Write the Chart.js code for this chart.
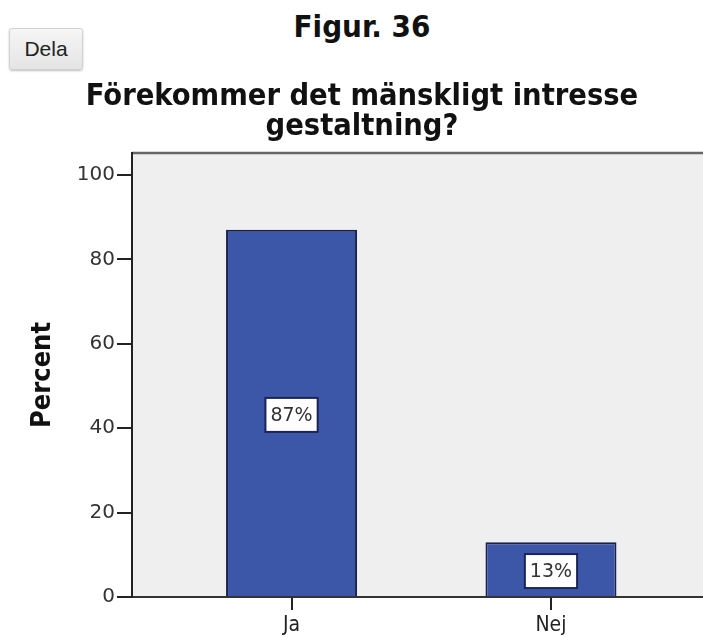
<!DOCTYPE html>
<html lang="sv">
<head>
<meta charset="UTF-8">
<title>Figur. 36</title>
<script src="https://cdn.jsdelivr.net/npm/chart.js@4.4.1/dist/chart.umd.min.js"></script>
<style>
  body {
    margin: 0;
    width: 703px;
    height: 637px;
    position: relative;
    overflow: hidden;
    background: #fff;
  }
  h2 {
    position: absolute;
    top: 8px;
    left: 21px;
    right: 0;
    margin: 0;
    text-align: center;
    font: bold 31px 'DejaVu Sans Condensed', 'DejaVu Sans', sans-serif;
    font-stretch: condensed;
    line-height: 36px;
    color: #111;
  }
  #dela {
    position: absolute;
    left: 9px;
    top: 28px;
    width: 74px;
    height: 42px;
    background: linear-gradient(#f6f6f6, #e4e4e4);
    border: 1px solid #d2d2d2;
    border-radius: 3px;
    box-shadow: 0 1px 2px rgba(0,0,0,0.25);
    font: 21px 'Liberation Sans', Arial, sans-serif;
    color: #222;
    padding: 0;
  }
  #chart-box {
    position: absolute;
    left: 0;
    top: 72px;
    width: 703px;
    height: 565px;
  }
</style>
</head>
<body>
<button id="dela">Dela</button>
<h2>Figur. 36</h2>
<div id="chart-box">
  <canvas id="figChart" width="703" height="565"></canvas>
</div>

<script>
// svarskategorier och andel i procent
const categories = ['Ja', 'Nej'];
const percent = [87, 13];
const yTicks = [0, 20, 40, 60, 80, 100];
const titleLines = ['Förekommer det mänskligt intresse', 'gestaltning?'];

const condensed = "'DejaVu Sans Condensed', 'DejaVu Sans', sans-serif";

// grå bakgrund i diagramytan + ram upptill
const plotFrame = {
  id: 'plotFrame',
  beforeDraw(chart) {
    const a = chart.chartArea;
    const ctx = chart.ctx;
    ctx.save();
    ctx.fillStyle = '#efefef';
    ctx.fillRect(a.left, a.top, a.right - a.left, a.bottom - a.top);
    ctx.strokeStyle = '#666';
    ctx.lineWidth = 2.5;
    ctx.beginPath();
    ctx.moveTo(a.left, a.top);
    ctx.lineTo(a.right, a.top);
    ctx.stroke();
    ctx.restore();
  }
};

// procentetikett i mitten av varje stapel
const barLabels = {
  id: 'barLabels',
  afterDatasetsDraw(chart) {
    const ctx = chart.ctx;
    const meta = chart.getDatasetMeta(0);
    ctx.save();
    ctx.font = "19px 'DejaVu Sans', sans-serif";
    ctx.textAlign = 'center';
    ctx.textBaseline = 'middle';
    meta.data.forEach((bar, i) => {
      const text = percent[i] + '%';
      const cx = bar.x;
      const cy = (bar.y + bar.base) / 2 + 2;
      const w = ctx.measureText(text).width + 10;
      const h = 34;
      ctx.fillStyle = '#fff';
      ctx.fillRect(cx - w / 2, cy - h / 2, w, h);
      ctx.strokeStyle = '#1a2457';
      ctx.lineWidth = 2;
      ctx.strokeRect(cx - w / 2, cy - h / 2, w, h);
      ctx.fillStyle = '#333';
      ctx.fillText(text, cx, cy + 1);
    });
    ctx.restore();
  }
};

const ctx = document.getElementById('figChart').getContext('2d');
new Chart(ctx, {
  type: 'bar',
  data: {
    datasets: [{
      data: percent.map((v, i) => ({ x: i, y: v })),
      backgroundColor: '#3c56a8',
      borderColor: '#18204f',
      borderWidth: 2,
      categoryPercentage: 1,
      barPercentage: 0.505
    }]
  },
  options: {
    responsive: false,
    animation: false,
    devicePixelRatio: 1,
    layout: { padding: { left: 21, top: 0, right: 0, bottom: 0 } },
    plugins: {
      legend: { display: false },
      tooltip: { enabled: false },
      title: {
        display: true,
        text: titleLines,
        color: '#111',
        font: { family: condensed, size: 30.5, weight: 'bold', lineHeight: '30px' },
        padding: { top: 10, bottom: 11 }
      }
    },
    scales: {
      x: {
        type: 'linear',
        offset: false,
        min: -0.615,
        max: 1.586,
        afterBuildTicks: s => { s.ticks = categories.map((c, i) => ({ value: i })); },
        afterFit: s => { s.height = 40; },
        ticks: {
          callback: v => categories[v] ?? '',
          autoSkip: false,
          maxRotation: 0,
          padding: 3,
          color: '#222',
          font: { family: condensed, size: 21 }
        },
        grid: {
          display: true,
          offset: false,
          drawOnChartArea: false,
          drawTicks: true,
          tickLength: 13,
          color: '#222',
          lineWidth: 2
        },
        border: { display: true, color: '#333', width: 2 }
      },
      y: {
        min: 0,
        max: 105.2,
        afterBuildTicks: s => { s.ticks = yTicks.map(v => ({ value: v })); },
        afterFit: s => { s.width = 111; },
        ticks: {
          padding: 2,
          color: '#333',
          font: { family: "'DejaVu Sans', sans-serif", size: 20 }
        },
        grid: {
          display: true,
          drawOnChartArea: false,
          drawTicks: true,
          tickLength: 15,
          color: '#222',
          lineWidth: 2
        },
        border: { display: true, color: '#222', width: 2 },
        title: {
          display: true,
          text: 'Percent',
          color: '#111',
          font: { family: condensed, size: 27, weight: 'bold' },
          padding: { top: 6, bottom: 0 }
        }
      }
    }
  },
  plugins: [plotFrame, barLabels]
});
</script>
</body>
</html>
